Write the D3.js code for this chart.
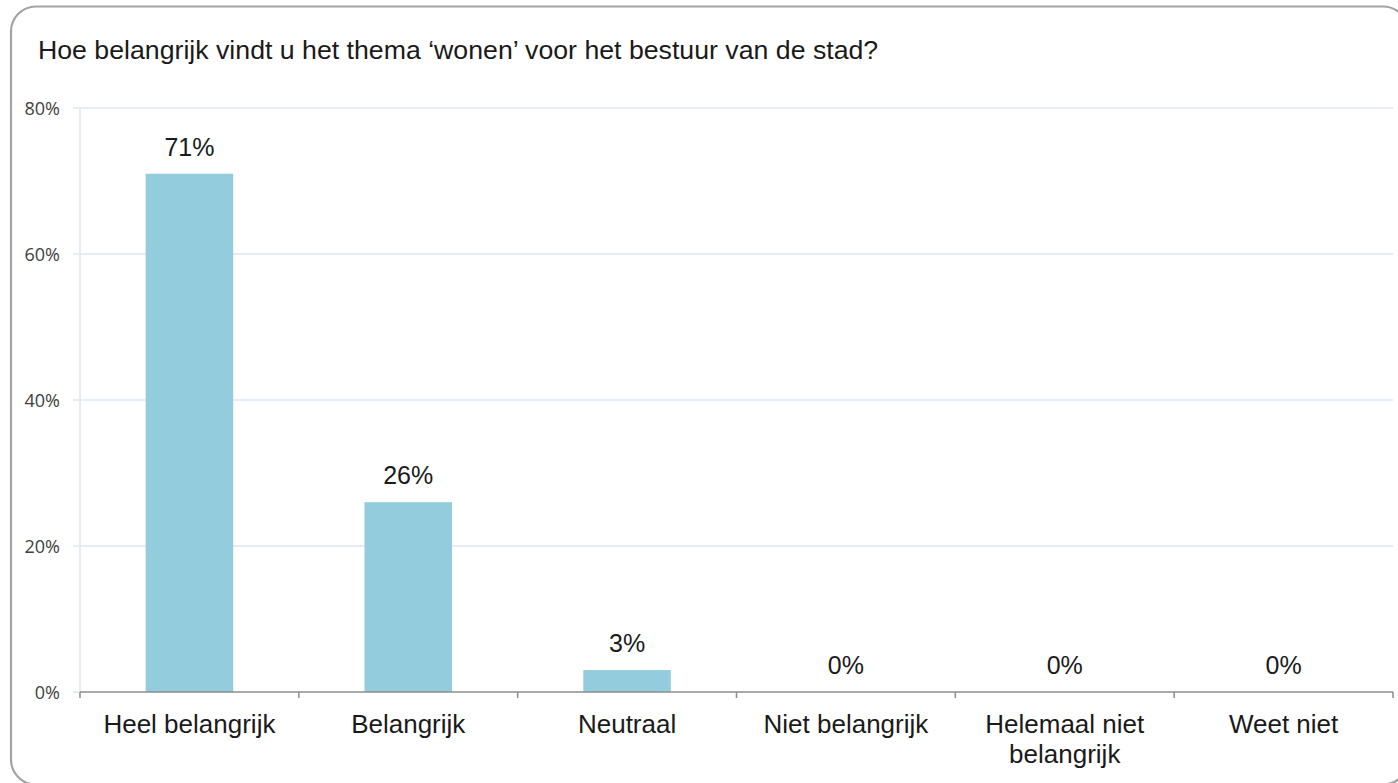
<!DOCTYPE html>
<html>
<head>
<meta charset="utf-8">
<script src="https://cdn.jsdelivr.net/npm/d3@7"></script>
<style>
  body { margin: 0; background: #fff; }
  svg { display: block; }
</style>
</head>
<body>
<div id="chart"></div>
<script>
const title = "Hoe belangrijk vindt u het thema \u2018wonen\u2019 voor het bestuur van de stad?";
const categories = ["Heel belangrijk", "Belangrijk", "Neutraal", "Niet belangrijk", "Helemaal niet belangrijk", "Weet niet"];
const categoryLines = [["Heel belangrijk"], ["Belangrijk"], ["Neutraal"], ["Niet belangrijk"], ["Helemaal niet", "belangrijk"], ["Weet niet"]];
const values = [71, 26, 3, 0, 0, 0];
const yTicks = [0, 20, 40, 60, 80];

const W = 1398, H = 783;
const plot = { left: 80, right: 1393, top: 108, bottom: 692 };

const svg = d3.select("#chart").append("svg")
    .attr("width", W)
    .attr("height", H);

// outer rounded frame (runs off the right and bottom edge)
svg.append("rect")
    .attr("x", 11).attr("y", 6.5)
    .attr("width", 1397).attr("height", 778)
    .attr("rx", 25).attr("ry", 25)
    .attr("fill", "#fff")
    .attr("stroke", "#a3a3a3")
    .attr("stroke-width", 2.2);

svg.append("text")
    .attr("x", 38).attr("y", 59)
    .attr("font-family", "Liberation Sans, Arial, sans-serif")
    .attr("font-size", 26.7)
    .attr("fill", "#1a1a1a")
    .text(title);

const x = d3.scaleBand()
    .domain(categories)
    .range([plot.left, plot.right]);

const y = d3.scaleLinear()
    .domain([0, 80])
    .range([plot.bottom, plot.top]);

// gridlines
svg.append("g")
    .selectAll("line")
    .data(yTicks.filter(d => d > 0))
    .join("line")
    .attr("x1", plot.left - 7).attr("x2", plot.right)
    .attr("y1", d => y(d)).attr("y2", d => y(d))
    .attr("stroke", "#dce6f2")
    .attr("stroke-width", 1.5);

// y axis line
svg.append("line")
    .attr("x1", plot.left).attr("x2", plot.left)
    .attr("y1", plot.top).attr("y2", plot.bottom)
    .attr("stroke", "#dce6f2")
    .attr("stroke-width", 1.5);
svg.append("line")
    .attr("x1", plot.left - 7).attr("x2", plot.left)
    .attr("y1", plot.bottom).attr("y2", plot.bottom)
    .attr("stroke", "#dce6f2")
    .attr("stroke-width", 1.5);

svg.append("g")
    .selectAll("text")
    .data(yTicks)
    .join("text")
    .attr("x", 60)
    .attr("y", d => y(d) + 6.5)
    .attr("text-anchor", "end")
    .attr("font-family", "Open Sans, sans-serif")
    .attr("font-size", 18)
    .attr("fill", "#404040")
    .text(d => d + "%");

// bars
const barW = x.bandwidth() * 0.4;
svg.append("g")
    .selectAll("rect")
    .data(values)
    .join("rect")
    .attr("x", (d, i) => x(categories[i]) + (x.bandwidth() - barW) / 2)
    .attr("y", d => y(d))
    .attr("width", barW)
    .attr("height", d => plot.bottom - y(d))
    .attr("fill", "#93cddd");

// value labels
svg.append("g")
    .selectAll("text")
    .data(values)
    .join("text")
    .attr("x", (d, i) => x(categories[i]) + x.bandwidth() / 2)
    .attr("y", d => y(d) - 18)
    .attr("text-anchor", "middle")
    .attr("font-family", "Liberation Sans, Arial, sans-serif")
    .attr("font-size", 25)
    .attr("fill", "#1a1a1a")
    .text(d => d + "%");

// x axis
svg.append("line")
    .attr("x1", plot.left).attr("x2", plot.right)
    .attr("y1", plot.bottom).attr("y2", plot.bottom)
    .attr("stroke", "#8c8c8c")
    .attr("stroke-width", 1.5);

const boundaries = categories.map(c => x(c)).concat([plot.right]);
svg.append("g")
    .selectAll("line")
    .data(boundaries)
    .join("line")
    .attr("x1", d => d).attr("x2", d => d)
    .attr("y1", plot.bottom).attr("y2", plot.bottom + 6)
    .attr("stroke", "#8c8c8c")
    .attr("stroke-width", 1.5);

const catLabels = svg.append("g")
    .selectAll("text")
    .data(categories)
    .join("text")
    .attr("x", d => x(d) + x.bandwidth() / 2)
    .attr("y", 733)
    .attr("text-anchor", "middle")
    .attr("font-family", "Liberation Sans, Arial, sans-serif")
    .attr("font-size", 26)
    .attr("fill", "#1a1a1a");

catLabels.selectAll("tspan")
    .data((d, i) => categoryLines[i])
    .join("tspan")
    .attr("x", function () { return d3.select(this.parentNode).attr("x"); })
    .attr("dy", (d, i) => i === 0 ? 0 : 30)
    .text(d => d);
</script>
</body>
</html>
